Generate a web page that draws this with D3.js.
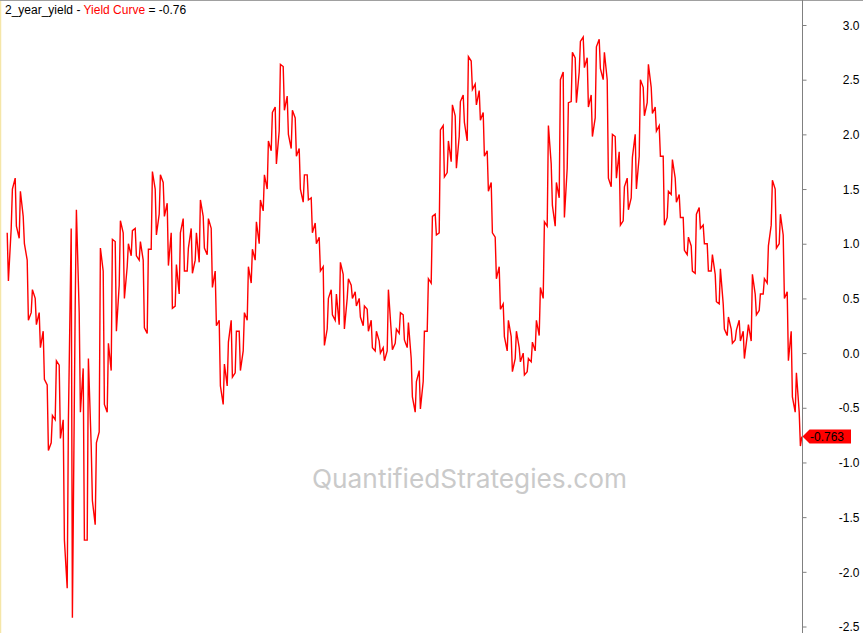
<!DOCTYPE html>
<html><head><meta charset="utf-8">
<script src="https://cdn.jsdelivr.net/npm/d3@7/dist/d3.min.js"></script>
<style>body{margin:0;background:#fff}svg{display:block}</style>
</head><body>
<svg id="c" width="863" height="633"></svg>
<script>
// Yield curve (10y - 2y) spread, per-period high / low (percentage points)
const hi = [1.1,1.5,1.6,1.48,1.25,0.85,0.58,0.5,0.37,0.2,-0.29,-0.57,-0.07,-0.11,-0.61,-0.62,1.14,1.31,0.37,-0.14,-0.05,-0.85,-0.82,0.96,0.75,0.09,1.04,1.02,1.21,1.1,1.0,1.12,
1.14,1.02,0.85,0.95,1.66,1.5,1.63,1.56,1.37,1.1,0.81,1.1,1.23,0.96,1.14,1.1,1.4,1.25,1.23,1.14,0.75,0.3,-0.1,0.1,0.3,0.2,0.2,0.37,0.79,0.95,1.2,1.4,1.63,1.94,
2.2,2.25,2.64,2.62,2.35,2.22,2.15,1.87,1.63,1.63,1.42,1.19,1.06,0.79,0.5,0.58,0.54,0.83,0.72,0.68,0.62,0.56,0.5,0.43,0.4,0.3,0.2,0.11,0.05,0.58,0.2,0.22,0.37,
0.35,0.28,-0.05,-0.26,-0.16,0.2,0.68,1.25,1.27,2.04,2.08,1.94,2.27,2.17,2.3,2.36,2.71,2.67,2.46,2.4,2.2,1.85,1.56,1.06,0.79,0.45,0.3,0.15,0.2,0.05,0.0,-0.05,0.1,0.3,0.6,
1.2,2.08,1.73,1.56,2.5,2.57,2.29,2.75,2.7,2.85,2.89,2.7,2.36,2.8,2.87,2.75,2.5,2.0,1.98,1.84,1.52,1.6,1.79,2.0,2.5,2.43,2.64,2.43,2.25,2.08,1.8,1.48,1.77,
1.6,1.45,1.24,1.06,0.98,1.27,1.33,1.17,1.0,0.9,0.72,0.77,0.45,0.33,0.22,0.21,0.3,0.2,0.26,0.72,0.54,0.54,0.68,0.98,1.58,1.5,1.27,1.08,0.56,0.2,-0.18,-0.54];
const lo = [0.66,1.14,1.16,1.05,1.0,0.3,0.37,0.26,0.05,-0.24,-0.89,-0.82,-0.61,-0.78,-1.71,-2.15,-2.42,0.43,-0.54,-1.71,-1.71,-1.35,-1.57,-0.72,-0.47,-0.54,-0.16,0.2,0.62,0.5,0.79,0.89,
0.89,0.85,0.23,0.18,0.95,1.08,1.27,1.25,0.8,0.41,0.43,0.54,0.75,0.75,0.73,0.85,0.83,0.96,0.9,0.6,0.25,-0.3,-0.47,-0.3,-0.22,-0.18,-0.16,0.02,0.3,0.64,0.85,1.0,1.3,1.5,
1.85,1.73,2.03,2.22,2.0,1.87,1.8,1.5,1.38,1.4,1.1,1.0,0.75,0.07,0.22,0.35,0.3,0.26,0.22,0.5,0.5,0.43,0.33,0.25,0.2,0.05,0.02,0.0,-0.07,0.02,0.03,0.09,0.18,
0.12,0.05,-0.4,-0.54,-0.51,-0.26,0.2,0.64,1.08,1.1,1.61,1.65,1.75,1.69,1.98,2.11,1.94,2.41,2.27,2.13,1.8,1.48,1.1,0.68,0.4,0.15,0.02,-0.17,-0.05,-0.08,-0.2,-0.17,-0.08,0.02,0.16,
0.5,1.16,1.35,1.16,1.42,1.24,1.69,2.3,2.29,2.57,2.61,2.25,1.98,2.15,2.6,2.5,1.6,1.52,1.6,1.17,1.21,1.31,1.42,1.5,1.8,2.17,2.29,2.19,2.03,1.8,1.17,1.24,1.45,
1.38,1.24,0.94,0.9,0.75,0.73,1.14,1.0,0.75,0.75,0.47,0.45,0.22,0.16,0.09,0.12,0.11,-0.05,0.16,0.11,0.35,0.39,0.54,0.64,1.17,0.96,1.0,0.5,-0.07,-0.4,-0.54,-0.85];
const lastValue = -0.763;
const yTicks = [3.0, 2.5, 2.0, 1.5, 1.0, 0.5, 0.0, -0.5, -1.0, -1.5, -2.0, -2.5];
const symbolName = "2_year_yield";
const seriesName = "Yield Curve";
const watermark = "QuantifiedStrategies.com";

const W = 863, H = 633, axisX = 802.5;
const svg = d3.select("#c");
const y = d3.scaleLinear().domain([-2.5, 3.0]).range([626.5, 25]);
const x = d3.scaleLinear().domain([0, hi.length]).range([6, 802]);

// frame
svg.append("rect").attr("x",0).attr("y",0).attr("width",W).attr("height",H).attr("fill","#fff");
svg.append("line").attr("x1",0).attr("x2",W).attr("y1",0.5).attr("y2",0.5).attr("stroke","#a0a0a0");
svg.append("line").attr("x1",0.5).attr("x2",0.5).attr("y1",1).attr("y2",H).attr("stroke","#f5e6a8").attr("stroke-width",1.5);

// watermark
svg.append("text").attr("x",312).attr("y",488)
  .attr("font-family","Inter, Roboto, sans-serif").attr("font-size",26)
  .attr("textLength",315).attr("lengthAdjust","spacingAndGlyphs")
  .attr("fill","#cacaca").text(watermark);

// series path: near-vertical strokes through each period's extremes
const pts = [];
let prev = (hi[0]+lo[0])/2;
for (let i = 0; i < hi.length; i++) {
  const a = Math.abs(hi[i]-prev) < Math.abs(lo[i]-prev) ? [hi[i], lo[i]] : [lo[i], hi[i]];
  pts.push([i + 0.3, a[0]]);
  pts.push([i + 0.6, a[1]]);
  prev = a[1];
}
pts.push([hi.length - 0.05, lastValue]);
const line = d3.line().x(d => x(d[0])).y(d => y(d[1]));
svg.append("path").attr("d", line(pts)).attr("fill","none")
  .attr("stroke","#ff0000").attr("stroke-width",1.4).attr("stroke-linejoin","miter");

// right axis
const axis = d3.axisRight(y).tickValues(yTicks).tickSize(4).tickFormat(d => d.toFixed(1));
const g = svg.append("g").attr("transform",`translate(${axisX},0)`).call(axis);
g.select(".domain").attr("d",`M0,0V${H}`).attr("stroke","#808080");
g.selectAll(".tick line").attr("stroke","#808080");
g.selectAll(".tick text").attr("text-anchor","end").attr("x",57).attr("dy","0.35em")
  .attr("font-family","'Liberation Sans', Arial, sans-serif").attr("font-size",12).attr("fill","#000");

// last value tag
const ty = y(lastValue);
svg.append("path").attr("d",`M${axisX},${ty} L${axisX+7},${ty-7} L851,${ty-7} L851,${ty+7} L${axisX+7},${ty+7} Z`)
  .attr("fill","#ff0000");
svg.append("text").attr("x",810).attr("y",ty).attr("dy","0.36em")
  .attr("font-family","'Liberation Sans', Arial, sans-serif").attr("font-size",12).attr("fill","#000")
  .text(lastValue.toFixed(3));

// legend
const t = svg.append("text").attr("x",5).attr("y",14)
  .attr("font-family","'Liberation Sans', Arial, sans-serif").attr("font-size",12);
t.append("tspan").attr("fill","#000").text(symbolName + " - ");
t.append("tspan").attr("fill","#ff0000").text(seriesName);
t.append("tspan").attr("fill","#000").text(" = " + d3.format(".2f")(lastValue).replace("−","-"));
</script>
</body></html>
